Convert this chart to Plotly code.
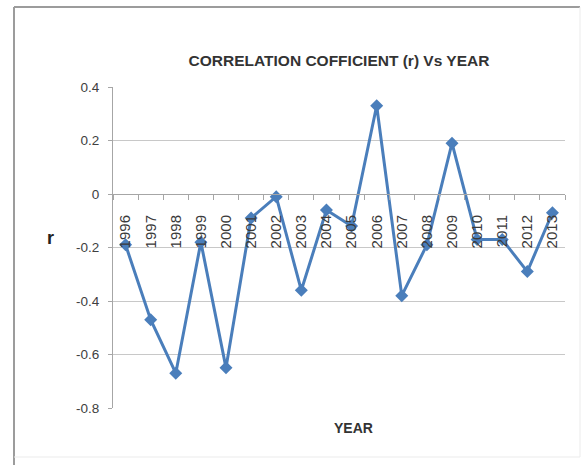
import plotly.graph_objects as go

years = ["1996", "1997", "1998", "1999", "2000", "2001", "2002", "2003", "2004",
         "2005", "2006", "2007", "2008", "2009", "2010", "2011", "2012", "2013"]
r_values = [-0.19, -0.47, -0.67, -0.18, -0.65, -0.09, -0.01, -0.36, -0.06,
            -0.12, 0.33, -0.38, -0.19, 0.19, -0.17, -0.17, -0.29, -0.07]
y_ticks = [-0.8, -0.6, -0.4, -0.2, 0, 0.2, 0.4]
y_ticktext = ["-0.8", "-0.6", "-0.4", "-0.2", "0", "0.2", "0.4"]

FONT = "Liberation Sans, Arial, sans-serif"
BLUE = "#4a7ebb"
AXIS = "#a6a6a6"

fig = go.Figure()
fig.add_trace(go.Scatter(
    x=years, y=r_values, mode="lines+markers",
    line=dict(color=BLUE, width=3),
    marker=dict(symbol="diamond", size=10, color=BLUE),
    xaxis="x", yaxis="y", showlegend=False,
))
# invisible helper trace for the category axis that crosses at r = 0
fig.add_trace(go.Scatter(
    x=years, y=r_values, mode="lines", line=dict(width=0, color="rgba(0,0,0,0)"),
    xaxis="x2", yaxis="y", showlegend=False, hoverinfo="skip",
))

y0, y1 = -0.8, 0.4
zero_pos = (0 - y0) / (y1 - y0)

fig.update_layout(
    width=583, height=465, autosize=False,
    margin=dict(l=113, r=18, t=87, b=57),
    paper_bgcolor="white", plot_bgcolor="white",
    font=dict(family=FONT, color="#404040"),
    title=dict(text="<b>CORRELATION COFFICIENT (r) Vs YEAR</b>",
               font=dict(size=15.5, color="#333333", family=FONT),
               x=0.5, xref="paper", xanchor="center",
               y=1 - 61 / 465, yref="container", yanchor="middle"),
    xaxis=dict(type="category", categoryorder="array", categoryarray=years,
               range=[-0.5, len(years) - 0.5], showticklabels=False,
               showgrid=False, zeroline=False, showline=False, ticks="",
               automargin=False),
    xaxis2=dict(type="category", categoryorder="array", categoryarray=years,
                overlaying="x", anchor="free", position=zero_pos, matches="x",
                side="bottom", showgrid=False, zeroline=False,
                showline=True, linecolor=AXIS, linewidth=1,
                ticks="outside", tickson="boundaries", ticklen=5, tickcolor=AXIS,
                tickangle=-90, tickfont=dict(size=15, color="#3a3a3a", family=FONT),
                ticklabelstandoff=14, automargin=False),
    yaxis=dict(range=[y0, y1], tickvals=y_ticks, ticktext=y_ticktext,
               showgrid=True, gridcolor="#c8c8c8", gridwidth=1,
               zeroline=False, showline=True, linecolor=AXIS, linewidth=1,
               ticks="outside", ticklen=4, tickcolor=AXIS,
               tickfont=dict(size=13.5, color="#404040", family=FONT),
               ticklabelstandoff=6, automargin=False),
    annotations=[
        dict(text="<b>r</b>", xref="paper", yref="paper",
             x=(50 - 113) / 452, y=(408 - 238) / 321,
             xanchor="center", yanchor="middle", showarrow=False,
             font=dict(size=18, color="#222222", family=FONT)),
        dict(text="<b>YEAR</b>", xref="paper", yref="paper",
             x=(353 - 113) / 452, y=(408 - 428) / 321,
             xanchor="center", yanchor="middle", showarrow=False,
             font=dict(size=14, color="#333333", family=FONT)),
    ],
    shapes=[
        dict(type="line", xref="paper", yref="paper",
             x0=(14 - 113) / 452, x1=(14 - 113) / 452,
             y0=(408 - 470) / 321, y1=(408 - 7) / 321,
             line=dict(color="#9c9c9c", width=2)),
        dict(type="line", xref="paper", yref="paper",
             x0=(14 - 113) / 452, x1=(580 - 113) / 452,
             y0=(408 - 7) / 321, y1=(408 - 7) / 321,
             line=dict(color="#9c9c9c", width=2)),
        dict(type="line", xref="paper", yref="paper",
             x0=(580 - 113) / 452, x1=(580 - 113) / 452,
             y0=(408 - 457) / 321, y1=(408 - 7) / 321,
             line=dict(color="#ebebeb", width=1)),
        dict(type="line", xref="paper", yref="paper",
             x0=(14 - 113) / 452, x1=(580 - 113) / 452,
             y0=(408 - 457) / 321, y1=(408 - 457) / 321,
             line=dict(color="#ebebeb", width=1)),
    ],
)

fig.write_html(
    "out.html",
    config={"displayModeBar": False},
    post_script="document.body.style.margin='0';document.body.style.padding='0';",
)
